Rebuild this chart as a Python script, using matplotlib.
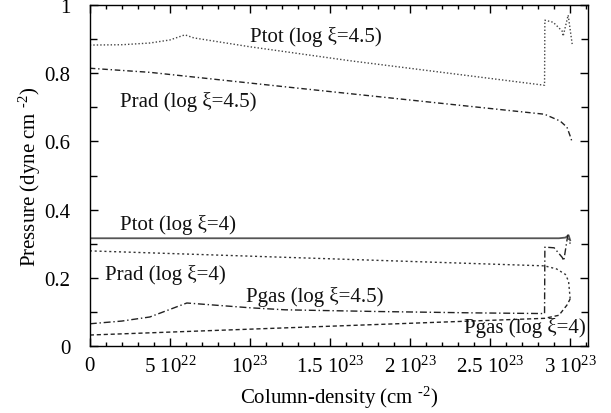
import numpy as np
from matplotlib import pyplot as plt
from matplotlib.ticker import MultipleLocator, FuncFormatter

plt.rcParams['font.family'] = ['Liberation Serif', 'DejaVu Serif']
plt.rcParams['mathtext.fontset'] = 'custom'
plt.rcParams['mathtext.rm'] = 'Liberation Serif'
plt.rcParams['mathtext.it'] = 'Liberation Serif:italic'
plt.rcParams['font.size'] = 15

# column density in units of 1e23 cm^-2, pressures in dyne cm^-2
x_ptot45 = [0.0, 0.2, 0.375, 0.5, 0.594, 0.65, 1.0, 1.625, 2.84, 2.842, 2.894, 2.95, 2.956, 2.9875, 3.0125]
y_ptot45 = [0.883, 0.884, 0.889, 0.898, 0.913, 0.904, 0.878, 0.837, 0.765, 0.956, 0.950, 0.924, 0.909, 0.971, 0.886]

x_prad45 = [0.0, 0.375, 1.25, 2.4375, 2.84, 2.9375, 2.98, 3.0, 3.0125]
y_prad45 = [0.815, 0.803, 0.759, 0.70, 0.68, 0.66, 0.642, 0.616, 0.598]

x_ptot4 = [0.0, 2.93, 2.97, 2.99, 3.0]
y_ptot4 = [0.316, 0.316, 0.318, 0.325, 0.31]

x_prad4 = [0.0, 2.84, 2.915, 2.97, 2.99, 3.0]
y_prad4 = [0.279, 0.235, 0.226, 0.21, 0.19, 0.138]

x_pgas45 = [0.0, 0.2, 0.375, 0.606, 1.0, 1.22, 1.8, 2.4, 2.84, 2.842, 2.9, 2.95, 2.96, 2.985, 3.0]
y_pgas45 = [0.065, 0.073, 0.085, 0.126, 0.112, 0.106, 0.101, 0.097, 0.095, 0.29, 0.288, 0.26, 0.25, 0.325, 0.30]

x_pgas4 = [0.0, 1.22, 2.84, 2.93, 2.98, 3.0]
y_pgas4 = [0.032, 0.053, 0.081, 0.09, 0.12, 0.138]

labels = ['Ptot (log ξ=4.5)', 'Prad (log ξ=4.5)', 'Ptot (log ξ=4)',
          'Prad (log ξ=4)', 'Pgas (log ξ=4.5)', 'Pgas (log ξ=4)']
label_x = [1.0, 0.19, 0.19, 0.094, 0.975, 2.34]
label_y = [0.909, 0.718, 0.358, 0.212, 0.146, 0.056]

xticks = [0, 0.5, 1.0, 1.5, 2.0, 2.5, 3.0]
xtick_labels = ['0', r'5 10$^{22}$', r'10$^{23}$', r'1.5 10$^{23}$',
                r'2 10$^{23}$', r'2.5 10$^{23}$', r'3 10$^{23}$']

fig = plt.figure(figsize=(6.11, 4.14), dpi=100)
ax = fig.add_axes([0.147, 0.162, 0.815, 0.823])

ax.plot(x_ptot45, y_ptot45, color='#444444', lw=1.0, linestyle=(0, (1, 1.5)))
ax.plot(x_prad45, y_prad45, color='#222222', lw=1.0, linestyle=(0, (4, 2, 1, 2)))
ax.plot(x_ptot4, y_ptot4, color='#555555', lw=1.3, linestyle='-')
ax.plot(x_prad4, y_prad4, color='#333333', lw=1.0, linestyle=(0, (1.5, 2)))
ax.plot(x_pgas45, y_pgas45, color='#222222', lw=1.0, linestyle=(0, (5, 2, 1, 2)))
ax.plot(x_pgas4, y_pgas4, color='#222222', lw=1.0, linestyle=(0, (3, 2)))

for t, tx, ty in zip(labels, label_x, label_y):
    ax.text(tx, ty, t, ha='left', va='center', color='#111111')

ax.set_xlim(0, 3.11)
ax.set_ylim(0, 1)
ax.set_xticks(xticks)
ax.set_xticklabels(xtick_labels)
ax.xaxis.set_minor_locator(MultipleLocator(0.1))
ax.yaxis.set_major_locator(MultipleLocator(0.2))
ax.yaxis.set_minor_locator(MultipleLocator(0.1))
ax.yaxis.set_major_formatter(FuncFormatter(lambda v, p: '%g' % round(v, 2)))
ax.tick_params(which='both', direction='in', top=True, right=True, width=1.0)
ax.tick_params(which='major', length=6, pad=7)
ax.tick_params(axis='y', which='major', pad=14)
ax.tick_params(which='minor', length=3)
ax.tick_params(axis='y', which='minor', length=5)
for s in ax.spines.values():
    s.set_linewidth(1.0)

ax.set_xlabel(r'Column-density (cm $^{\text{-}2}$)', labelpad=5)
ax.set_ylabel(r'Pressure (dyne cm $^{\text{-}2}$)', labelpad=1)

fig.savefig('out.png', dpi=100)
